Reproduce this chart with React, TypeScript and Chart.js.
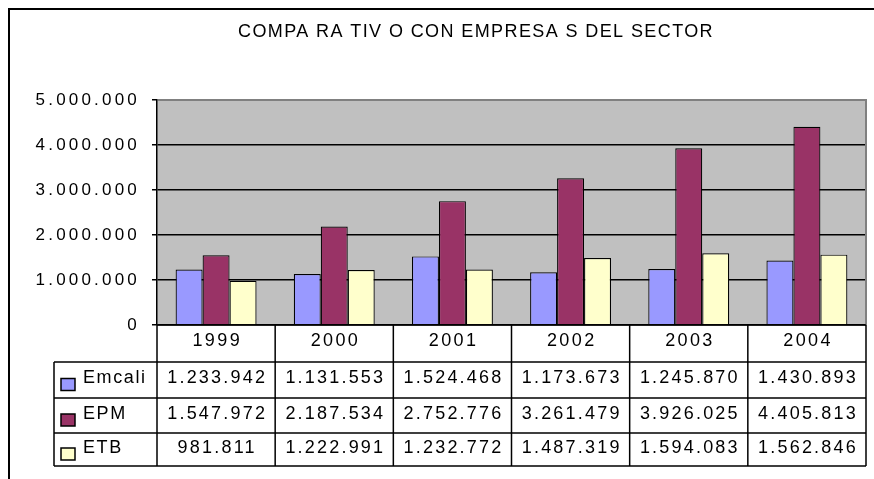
import React, { useEffect, useRef } from 'react';
import { Chart, registerables } from 'chart.js';

Chart.register(...registerables);

const TITLE = 'COMPA RA TIV O CON EMPRESA S DEL SECTOR';
const YEARS = ['1999', '2000', '2001', '2002', '2003', '2004'];
const SERIES_NAMES = ['Emcali', 'EPM', 'ETB'];
const EMCALI = [1233942, 1131553, 1524468, 1173673, 1245870, 1430893];
const EPM = [1547972, 2187534, 2752776, 3261479, 3926025, 4405813];
const ETB = [981811, 1222991, 1232772, 1487319, 1594083, 1562846];
const Y_TICKS = [0, 1000000, 2000000, 3000000, 4000000, 5000000];
const COLORS = ['#9999FF', '#993366', '#FFFFCC'];

const FONT = "'Liberation Sans', Arial, Helvetica, sans-serif";

const fmt = (v: number) => String(Math.round(v)).replace(/\B(?=(\d{3})+(?!\d))/g, '.');

const excelPlugin = {
  id: 'excelLook',
  beforeDraw(chart: any) {
    const { ctx, chartArea } = chart;
    const { left, top, right, bottom } = chartArea;
    ctx.save();
    ctx.fillStyle = '#ffffff';
    ctx.fillRect(0, 0, chart.width, chart.height);
    ctx.fillStyle = '#C0C0C0';
    ctx.fillRect(left, top, right - left, bottom - top);
    ctx.restore();
    ctx.letterSpacing = '3.2px';
  },
  beforeDatasetsDraw(chart: any) {
    const { ctx, chartArea } = chart;
    const { left, top, right, bottom } = chartArea;
    ctx.save();
    ctx.strokeStyle = '#808080';
    ctx.lineWidth = 2;
    ctx.beginPath();
    ctx.moveTo(left + 1, top);
    ctx.lineTo(right, top);
    ctx.lineTo(right, bottom);
    ctx.stroke();
    ctx.restore();
  },
  afterDraw(chart: any) {
    const { ctx, chartArea } = chart;
    const { left, right, bottom } = chartArea;
    const xs = chart.scales.x;
    const n = chart.data.labels.length;
    const step = xs.getPixelForValue(1) - xs.getPixelForValue(0);
    const cols: number[] = [];
    for (let i = 0; i < n; i++) cols.push(xs.getPixelForValue(i) - step / 2);
    cols.push(xs.getPixelForValue(n - 1) + step / 2);
    const rows = [bottom, bottom + 37, bottom + 73, bottom + 108, bottom + 141];
    const legendLeft = 54;

    ctx.save();
    // outer frame
    ctx.strokeStyle = '#000';
    ctx.lineWidth = 2;
    ctx.beginPath();
    ctx.moveTo(9, chart.height);
    ctx.lineTo(9, 9);
    ctx.lineTo(chart.width, 9);
    ctx.stroke();

    // title
    ctx.fillStyle = '#000';
    ctx.font = `18px ${FONT}`;
    ctx.letterSpacing = '1.4px';
    ctx.textAlign = 'center';
    ctx.textBaseline = 'middle';
    ctx.fillText(TITLE, 476, 32);

    // table grid
    ctx.lineWidth = 1.5;
    ctx.strokeStyle = '#000';
    ctx.beginPath();
    ctx.moveTo(left, rows[0]);
    ctx.lineTo(right, rows[0]);
    for (let r = 1; r < rows.length; r++) {
      ctx.moveTo(legendLeft, rows[r]);
      ctx.lineTo(right, rows[r]);
    }
    ctx.moveTo(legendLeft, rows[1]);
    ctx.lineTo(legendLeft, rows[rows.length - 1]);
    cols.forEach((c) => {
      ctx.moveTo(c, rows[0]);
      ctx.lineTo(c, rows[rows.length - 1]);
    });
    ctx.stroke();

    // header
    ctx.font = `18px ${FONT}`;
    ctx.letterSpacing = '2.4px';
    ctx.textAlign = 'center';
    chart.data.labels.forEach((lab: string, i: number) => {
      ctx.fillText(lab, (cols[i] + cols[i + 1]) / 2 + 1.2, (rows[0] + rows[1]) / 2 - 2);
    });

    // rows
    chart.data.datasets.forEach((ds: any, r: number) => {
      const yc = (rows[r + 1] + rows[r + 2]) / 2;
      ds.data.forEach((v: number, i: number) => {
        ctx.textAlign = 'center';
        ctx.letterSpacing = '2.2px';
        ctx.fillText(fmt(v), (cols[i] + cols[i + 1]) / 2 + 1.1, yc - 1.5);
      });
      // legend key
      ctx.fillStyle = ds.backgroundColor;
      ctx.fillRect(61, yc - 1.5, 14, 12);
      ctx.lineWidth = 1.5;
      ctx.strokeStyle = '#000';
      ctx.strokeRect(61, yc - 1.5, 14, 12);
      ctx.fillStyle = '#000';
      ctx.textAlign = 'left';
      ctx.letterSpacing = '1.6px';
      ctx.fillText(ds.label, 83, yc - 1.5);
    });
    ctx.restore();
    ctx.letterSpacing = '0px';
  },
};

export default function App() {
  const ref = useRef<HTMLCanvasElement | null>(null);
  useEffect(() => {
    if (!ref.current) return;
    const chart = new Chart(ref.current, {
      type: 'bar',
      data: {
        labels: YEARS,
        datasets: [
          { label: SERIES_NAMES[0], data: EMCALI, backgroundColor: COLORS[0] },
          { label: SERIES_NAMES[1], data: EPM, backgroundColor: COLORS[1] },
          { label: SERIES_NAMES[2], data: ETB, backgroundColor: COLORS[2] },
        ].map((d) => ({
          ...d,
          borderColor: '#000',
          borderWidth: 1.2,
          categoryPercentage: 0.685,
          barPercentage: 1.0,
        })),
      },
      options: {
        responsive: false,
        maintainAspectRatio: false,
        animation: false,
        devicePixelRatio: 1,
        layout: { padding: { left: 0, right: 8, top: 100, bottom: 154 } },
        plugins: {
          legend: { display: false },
          tooltip: { enabled: false },
          title: { display: false },
        },
        scales: {
          x: { display: false, offset: true },
          y: {
            min: 0,
            max: 5000000,
            afterFit: (s: any) => {
              s.width = 157;
            },
            afterBuildTicks: (s: any) => {
              s.ticks = Y_TICKS.map((v) => ({ value: v }));
            },
            ticks: {
              callback: (v: any) => fmt(Number(v)),
              color: '#000',
              font: { family: FONT, size: 17 },
              padding: 12,
            },
            grid: {
              color: (c: any) => (c.tick && c.tick.value === 5000000 ? '#808080' : '#000'),
              lineWidth: 1.5,
              tickLength: 5,
              tickColor: '#000',
              drawTicks: true,
            },
            border: { display: true, color: '#000', width: 1.5 },
          },
        },
      },
      plugins: [excelPlugin],
    } as any);
    return () => chart.destroy();
  }, []);
  return (
    <div
      style={{
        position: 'fixed',
        left: 0,
        top: 0,
        width: 874,
        height: 479,
        overflow: 'hidden',
        background: '#fff',
      }}
    >
      <canvas ref={ref} width={874} height={479} style={{ display: 'block' }} />
    </div>
  );
}
